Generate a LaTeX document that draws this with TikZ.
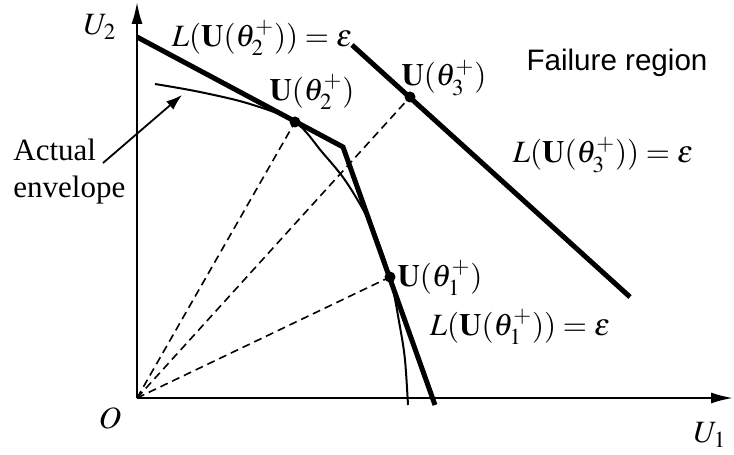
\documentclass[tikz,border=0pt]{standalone}
\usepackage{mathptmx}
\usepackage{fontspec}
\setmainfont{Liberation Serif}
\newfontfamily\labelsans{Liberation Sans}
\usetikzlibrary{arrows.meta}

\tikzset{
  axis/.style={line width=1pt,-{Latex[length=11pt,width=5.5pt]}},
  limitline/.style={line width=2.5pt},
  ray/.style={line width=0.8pt,dash pattern=on 4pt off 2.5pt},
  envcurve/.style={line width=1pt},
  dot/.style={circle,fill,inner sep=0pt,minimum size=5.5pt},
  lbl/.style={inner sep=1pt},
}

\begin{document}
\begin{tikzpicture}[x=25pt,y=25pt,font=\fontsize{15.5}{18.5}\selectfont]
    \path[use as bounding box] (-2.74,-1.14) rectangle (11.94,7.96);

    % Axes
    \coordinate (O) at (0,0);
    \coordinate (xend) at (11.92,0);
    \coordinate (yend) at (0,7.92);
    \draw[axis] (O) -- (xend);
    \draw[axis] (O) -- (yend);
    \node[lbl] (u1) at (11.46,-0.74) {$U_1$};
    \node[lbl] (u2) at (-0.74,7.42) {$U_2$};
    \node[lbl] (orig) at (-0.54,-0.40) {$O$};

    % Design points
    \coordinate (P1) at (5.06,2.42);
    \coordinate (P2) at (3.16,5.52);
    \coordinate (P3) at (5.46,6.02);

    % Rays from the origin
    \draw[ray] (O) -- (P1);
    \draw[ray] (O) -- (P2);
    \draw[ray] (O) -- (P3);

    % Actual envelope
    \draw[envcurve] plot[smooth,tension=0.55] coordinates {
        (0.36,6.28) (1.26,6.12) (2.26,5.88) (3.16,5.52) (3.70,4.92)
        (4.20,4.30) (4.70,3.42) (5.06,2.42) (5.26,1.42) (5.36,0.76)
        (5.42,-0.14)};

    % Linearized limit states
    \coordinate (A2) at (0,7.22);
    \coordinate (K) at (4.12,5.02);
    \coordinate (B1) at (5.96,-0.14);
    \coordinate (A3) at (4.30,7.06);
    \coordinate (B3) at (9.86,2.02);
    \draw[limitline] (A2) -- (K) -- (B1);
    \draw[limitline] (A3) -- (B3);

    \node[dot] (d1) at (P1) {};
    \node[dot] (d2) at (P2) {};
    \node[dot] (d3) at (P3) {};

    % Labels
    \node[lbl] (g2) at (2.50,7.20) {$L(\mathbf{U}(\theta_2^+))=\varepsilon$};
    \node[lbl] (n2) at (3.50,6.12) {$\mathbf{U}(\theta_2^+)$};
    \node[lbl] (n3) at (6.14,6.40) {$\mathbf{U}(\theta_3^+)$};
    \node[lbl] (g3) at (9.32,4.86) {$L(\mathbf{U}(\theta_3^+))=\varepsilon$};
    \node[lbl] (n1) at (6.06,2.40) {$\mathbf{U}(\theta_1^+)$};
    \node[lbl] (g1) at (7.66,1.42) {$L(\mathbf{U}(\theta_1^+))=\varepsilon$};
    \node[lbl,font=\labelsans\fontsize{14.8}{17}\selectfont] (fail) at (9.60,6.70) {Failure region};

    % Envelope pointer
    \node[lbl,anchor=west,align=left,inner sep=0pt] (envtxt) at (-2.48,4.53) {Actual\\envelope};
    \coordinate (arrS) at (-0.68,4.70);
    \coordinate (arrE) at (0.90,6.06);
    \draw[line width=0.9pt,-{Latex[length=8pt,width=5.5pt]}] (arrS) -- (arrE);
  \end{tikzpicture}
\end{document}
